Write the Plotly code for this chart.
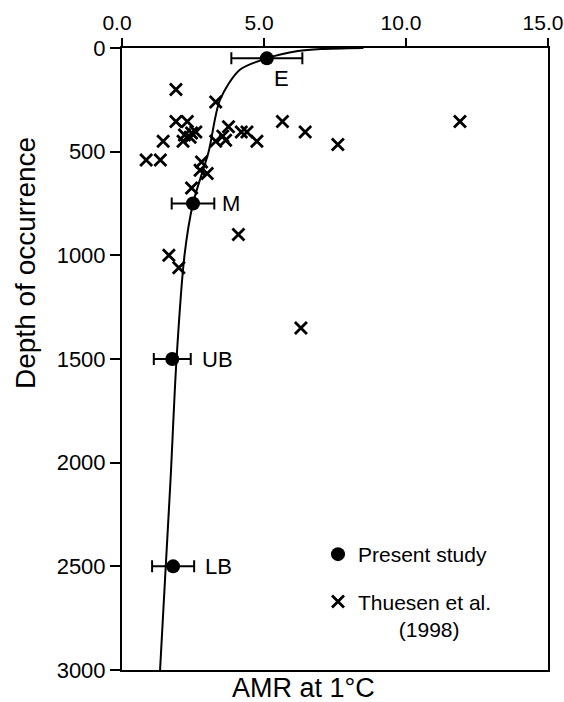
import plotly.graph_objects as go

# Present study (mean AMR with horizontal error bars)
present_labels = ["E", "M", "UB", "LB"]
present_amr = [5.1, 2.5, 1.77, 1.8]
present_depth = [50, 750, 1500, 2500]
present_err = [1.25, 0.75, 0.65, 0.74]

# Thuesen et al. (1998)
thuesen_amr = [1.9, 3.3, 1.9, 2.3, 2.6, 2.4, 2.45, 2.2, 1.45, 2.15, 3.3, 3.65,
               3.75, 3.55, 4.2, 4.4, 4.75, 5.65, 6.45, 7.6, 11.9, 0.85, 1.35,
               2.8, 2.75, 3.0, 2.45, 4.1, 1.65, 2.0, 6.3]
thuesen_depth = [200, 260, 355, 355, 405, 430, 410, 420, 450, 450, 450, 445,
                 380, 425, 405, 405, 450, 355, 405, 465, 355, 540, 540,
                 550, 590, 605, 675, 900, 1000, 1060, 1350]

# Fitted curve
curve_amr = [8.5, 7.0, 6.2, 5.1, 4.15, 3.45, 3.05, 2.5, 2.2, 1.92, 1.71, 1.54, 1.34]
curve_depth = [0, 5, 15, 50, 105, 250, 500, 750, 1000, 1500, 2080, 2500, 3000]

x_ticks = [0, 5, 10, 15]
x_ticktext = ["0.0", "5.0", "10.0", "15.0"]
y_ticks = [0, 500, 1000, 1500, 2000, 2500, 3000]

FONT = "Liberation Sans, Arial, sans-serif"
L, R, T, B = 122, 16, 48, 32
W, H = 564, 702
PW, PH = W - L - R, H - T - B

fig = go.Figure()

fig.add_trace(go.Scatter(
    x=curve_amr, y=curve_depth, mode="lines",
    line=dict(color="black", width=2, shape="spline", smoothing=0.8),
    showlegend=False, hoverinfo="skip"))

fig.add_trace(go.Scatter(
    x=present_amr, y=present_depth, mode="markers",
    marker=dict(symbol="circle", size=14, color="black"),
    error_x=dict(type="data", array=present_err, visible=True,
                 color="black", thickness=2, width=6),
    name="Present study", legendgroup="a"))

fig.add_trace(go.Scatter(
    x=thuesen_amr, y=thuesen_depth, mode="markers",
    marker=dict(symbol="x-thin-open", size=12, color="black",
                line=dict(color="black", width=2.8)),
    name="Thuesen et al.<br>\u00a0\u00a0\u00a0\u00a0\u00a0\u00a0\u00a0(1998)",
    legendgroup="b"))

label_x = [5.62, 3.45, 2.75, 2.86]
label_anchor = ["center", "left", "left", "left"]
label_y = [145, 750, 1500, 2500]
for lab, lx, ly, anc in zip(present_labels, label_x, label_y, label_anchor):
    fig.add_annotation(x=lx, y=ly, text=lab, showarrow=False, xanchor=anc,
                       yanchor="middle", font=dict(size=22, color="black", family=FONT))

# axis titles placed as in the reference
fig.add_annotation(x=(303 - L) / PW, y=-(688 - (H - B)) / PH, xref="paper", yref="paper",
                   text="AMR at 1\u00b0C", showarrow=False, xanchor="center", yanchor="middle",
                   font=dict(size=27, color="black", family=FONT))
fig.add_annotation(x=(25 - L) / PW, y=((H - B) - 263) / PH, xref="paper", yref="paper",
                   text="Depth of occurrence", textangle=-90, showarrow=False,
                   xanchor="center", yanchor="middle",
                   font=dict(size=28, color="black", family=FONT))

fig.update_layout(
    width=W, height=H,
    margin=dict(l=L, r=R, t=T, b=B, autoexpand=False),
    paper_bgcolor="white", plot_bgcolor="white",
    font=dict(family=FONT, size=22, color="black"),
    legend=dict(x=(318 - L) / PW, y=((H - B) - 534) / PH, xanchor="left", yanchor="top",
                bgcolor="rgba(0,0,0,0)", tracegroupgap=17, valign="top",
                font=dict(size=21, family=FONT, color="black")),
    xaxis=dict(side="top", range=[0, 15], tickvals=x_ticks, ticktext=x_ticktext,
               ticks="outside", ticklen=8, tickwidth=2, tickcolor="black",
               ticklabeloverflow="allow", ticklabelshift=-5, automargin=False,
               showline=True, linecolor="black", linewidth=2, mirror=True,
               showgrid=False, zeroline=False,
               tickfont=dict(size=21, family=FONT, color="black")),
    yaxis=dict(range=[3000, 0], tickvals=y_ticks, automargin=False,
               ticks="outside", ticklen=10, tickwidth=2, tickcolor="black",
               showline=True, linecolor="black", linewidth=2, mirror=True,
               showgrid=False, zeroline=False,
               tickfont=dict(size=22, family=FONT, color="black")),
)

fig.write_html("out.html")
